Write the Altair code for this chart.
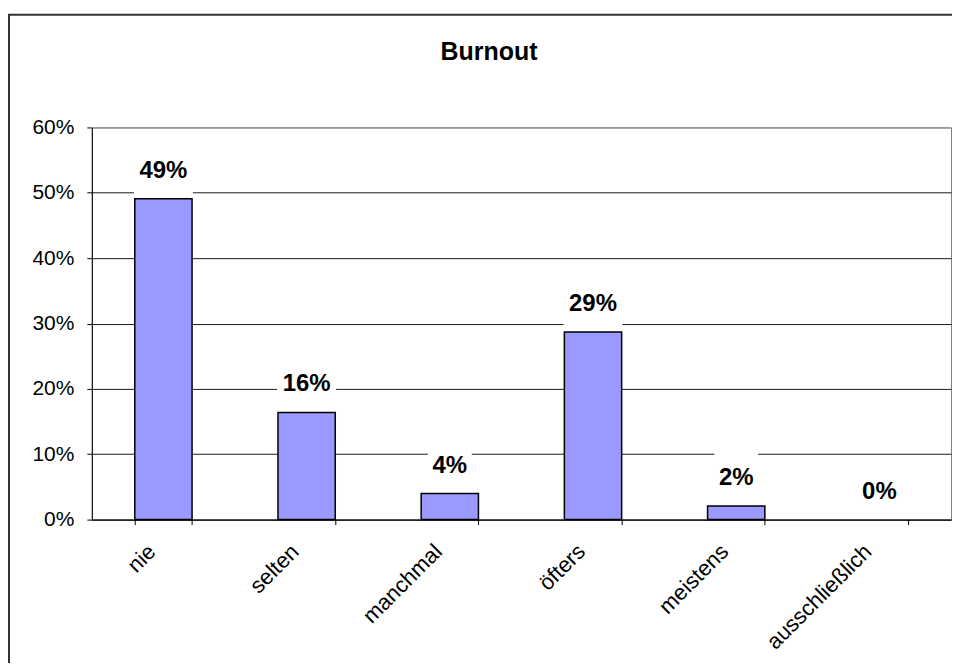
import altair as alt
import pandas as pd

categories = ["nie", "selten", "manchmal", "öfters", "meistens", "ausschließlich"]
shares = [0.491, 0.164, 0.040, 0.287, 0.021, 0.0]
labels = ["49%", "16%", "4%", "29%", "2%", "0%"]
title_text = "Burnout"
y_ticks = [0.0, 0.1, 0.2, 0.3, 0.4, 0.5, 0.6]

df = pd.DataFrame({"cat": categories, "share": shares, "label": labels})

W, H = 861, 393
FONT = "Liberation Sans"

x_enc = alt.X(
    "cat:N",
    sort=categories,
    scale=alt.Scale(paddingInner=0.6, paddingOuter=0.3),
    axis=alt.Axis(
        title=None,
        labelAngle=-45,
        labelAlign="right",
        labelBaseline="top",
        labelFontSize=22,
        labelPadding=16,
        labelOffset=-19,
        tickBand="extent",
        tickSize=5,
        tickColor="#000000",
        domainColor="#000000",
        labelColor="#000000",
        grid=False,
    ),
)
y_enc = alt.Y(
    "share:Q",
    scale=alt.Scale(domain=[0, 0.6], nice=False),
    axis=alt.Axis(
        title=None,
        values=y_ticks,
        format=".0%",
        labelFontSize=21,
        labelPadding=13,
        tickSize=5,
        tickColor="#000000",
        domainColor="#000000",
        labelColor="#000000",
        grid=True,
        gridColor=alt.condition("datum.value >= 0.6", alt.value("#808080"), alt.value("#1a1a1a")),
        gridWidth=1,
    ),
)

base = alt.Chart(df)

bars = base.transform_filter("datum.share > 0").mark_bar(
    color="#9999FF", stroke="#000000", strokeWidth=1.5
).encode(x=x_enc, y=y_enc)

boxes = base.transform_calculate(
    boxw="length(datum.label) * 15 + 14"
).mark_bar(color="#FFFFFF", yOffset=-53, y2Offset=-3).encode(
    x=alt.X("cat:N", sort=categories),
    y=alt.Y("share:Q"),
    y2=alt.Y2("share"),
    size=alt.Size("boxw:Q", scale=None, legend=None),
)

texts = base.mark_text(
    fontSize=24, fontWeight="bold", dy=-28, baseline="middle", color="#000000"
).encode(x=alt.X("cat:N", sort=categories), y=alt.Y("share:Q"), text="label:N")

title = alt.Chart(pd.DataFrame({"t": [title_text]})).mark_text(
    fontSize=25, fontWeight="bold", align="center", baseline="alphabetic", color="#000000"
).encode(x=alt.value(398), y=alt.value(-68), text="t:N")

border = alt.Chart(pd.DataFrame({"t": [title_text]})).mark_rect(
    fill=None, fillOpacity=0, stroke="#333333", strokeWidth=2
).encode(x=alt.value(-83), x2=alt.value(W + 40), y=alt.value(-113), y2=alt.value(H + 220))

chart = alt.layer(bars, boxes, texts, title, border).properties(
    width=W,
    height=H,
    autosize=alt.AutoSizeParams(type="none"),
    padding={"left": 84, "top": 119, "right": 1, "bottom": 143},
).configure(
    font=FONT,
    background="#FFFFFF",
).configure_view(
    stroke="#808080", strokeWidth=1
)

chart.save("out.html", embed_options={"renderer": "svg", "actions": False})
